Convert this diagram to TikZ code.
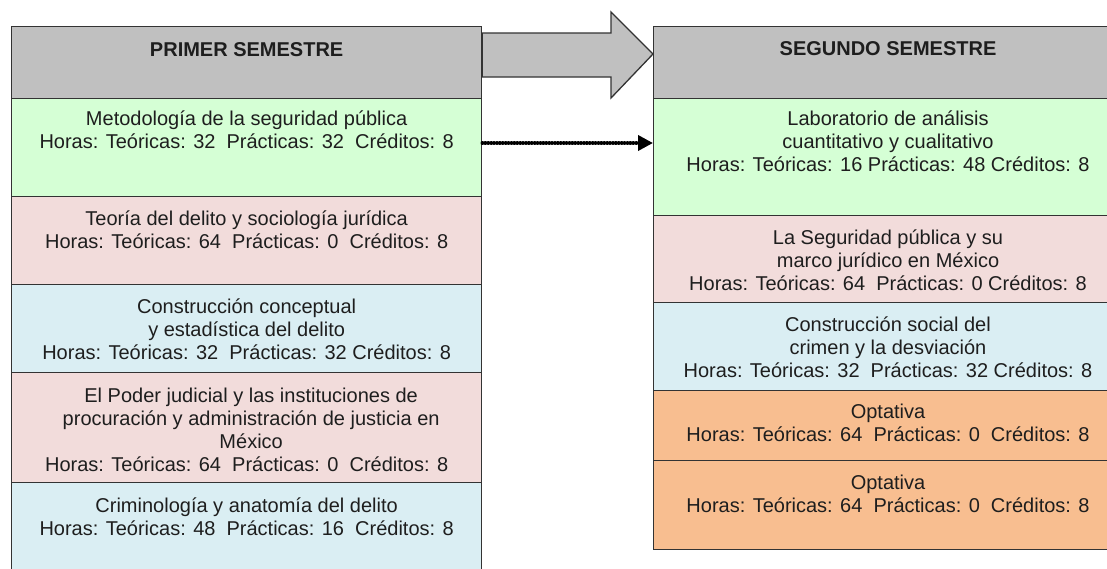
\documentclass[tikz,border=0pt]{standalone}
\usepackage{fontspec}
\setmainfont{Liberation Sans}
\usetikzlibrary{arrows.meta,calc}
\definecolor{hdr}{HTML}{C0C0C0}
\definecolor{cgreen}{HTML}{D5FFD5}
\definecolor{cpink}{HTML}{F2DCDB}
\definecolor{cblue}{HTML}{DAEEF3}
\definecolor{corange}{HTML}{F8BE90}
\definecolor{edge}{HTML}{333333}
\definecolor{ink}{HTML}{1E1E1E}
\begin{document}
\begin{tikzpicture}[x=1pt,y=-1pt,
  box/.style={draw=edge, line width=1.3pt, rectangle, inner sep=0pt, anchor=north west, minimum width=470pt},
  rbox/.style={box, minimum width=520pt},
  txt/.style={anchor=base, align=center, font=\fontsize{20}{23}\selectfont, text=ink, inner sep=0pt},
  hd/.style={txt, font=\fontsize{20}{23}\selectfont\bfseries},
  bigarrow/.style={draw=edge, line width=1.3pt, fill=hdr, line join=miter},
  dotline/.style={draw=black, line width=3.6pt, line cap=round, dash pattern=on 0.3pt off 2.6pt, -{Triangle[length=15pt,width=15pt,line cap=butt]}}]
\useasboundingbox (0,0) rectangle (1107,568);
\fill[white] (0,0) rectangle (1107,568);
\clip (0,0) rectangle (1107,568);
% left column
\node[box, fill=hdr, minimum height=72pt] (lh) at (11,26) {};
\node[box, fill=cgreen, minimum height=98pt] (l1) at (11,98) {};
\node[box, fill=cpink, minimum height=88pt] (l2) at (11,196) {};
\node[box, fill=cblue, minimum height=88pt] (l3) at (11,284) {};
\node[box, fill=cpink, minimum height=110pt] (l4) at (11,372) {};
\node[box, fill=cblue, minimum height=100pt] (l5) at (11,482) {};
% right column
\node[rbox, fill=hdr, minimum height=72pt] (rh) at (653,26) {};
\node[rbox, fill=cgreen, minimum height=117pt] (r1) at (653,98) {};
\node[rbox, fill=cpink, minimum height=87pt] (r2) at (653,215) {};
\node[rbox, fill=cblue, minimum height=88pt] (r3) at (653,302) {};
\node[rbox, fill=corange, minimum height=70pt] (r4) at (653,390) {};
\node[rbox, fill=corange, minimum height=89pt] (r5) at (653,460) {};
% texts left (anchor = baseline of last line)
\node[hd] (tlh) at ($(lh.north)+(0,30)$) {PRIMER SEMESTRE};
\node[txt] (tl1) at ($(l1.north)+(0,50)$) {Metodología de la seguridad pública\\Horas: Teóricas: 32~ Prácticas: 32~ Créditos: 8};
\node[txt] (tl2) at ($(l2.north)+(0,52)$) {Teoría del delito y sociología jurídica\\Horas: Teóricas: 64~ Prácticas: 0~ Créditos: 8};
\node[txt] (tl3) at ($(l3.north)+(0,75)$) {Construcción conceptual\\y estadística del delito\\Horas: Teóricas: 32~ Prácticas: 32 Créditos: 8};
\node[txt] (tl4) at ($(l4.north)+(0,99)$) {\hspace*{9pt}El Poder judicial y las instituciones de\\\hspace*{9pt}procuración y administración de justicia en\\\hspace*{9pt}México\\Horas: Teóricas: 64~ Prácticas: 0~ Créditos: 8};
\node[txt] (tl5) at ($(l5.north)+(0,53)$) {Criminología y anatomía del delito\\Horas: Teóricas: 48~ Prácticas: 16~ Créditos: 8};
% texts right
\node[hd] (trh) at ($(rh.north west)+(235,29)$) {SEGUNDO SEMESTRE};
\node[txt] (tr1) at ($(r1.north west)+(235,73)$) {Laboratorio de análisis\\cuantitativo y cualitativo\\Horas: Teóricas: 16 Prácticas: 48 Créditos: 8};
\node[txt] (tr2) at ($(r2.north west)+(235,75)$) {La Seguridad pública y su\\marco jurídico en México\\Horas: Teóricas: 64~ Prácticas: 0 Créditos: 8};
\node[txt] (tr3) at ($(r3.north west)+(235,75)$) {Construcción social del\\crimen y la desviación\\Horas: Teóricas: 32~ Prácticas: 32 Créditos: 8};
\node[txt] (tr4) at ($(r4.north west)+(235,51)$) {Optativa\\Horas: Teóricas: 64~ Prácticas: 0~ Créditos: 8};
\node[txt] (tr5) at ($(r5.north west)+(235,52)$) {Optativa\\Horas: Teóricas: 64~ Prácticas: 0~ Créditos: 8};
% big arrow between headers
\coordinate (ya) at (0,33);
\coordinate (yb) at (0,77);
\coordinate (yt) at (0,54);
\draw[bigarrow] (lh.north east |- ya) -- (611,33) -- (611,12) -- (rh.north west |- yt) -- (611,98) -- (611,77) -- (lh.north east |- yb) -- cycle;
% dotted connector
\coordinate (yd) at (0,143);
\draw[dotline] (l1.east |- yd) -- (r1.west |- yd);
\end{tikzpicture}
\end{document}
